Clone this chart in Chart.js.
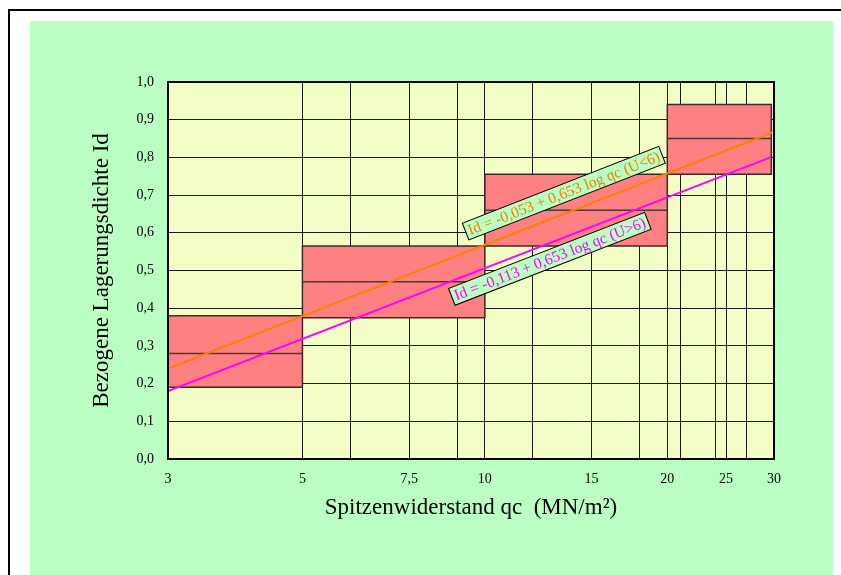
<!DOCTYPE html>
<html><head><meta charset="utf-8">
<script src="https://cdn.jsdelivr.net/npm/chart.js@4.4.1/dist/chart.umd.min.js"></script>
<style>html,body{margin:0;padding:0;background:#fff;}canvas{display:block;}</style>
</head><body>
<canvas id="c" width="841" height="575"></canvas>
<script>
// ---- data ----
const xGridValues = [3, 5, 6, 7.5, 9, 10, 12, 15, 18, 20, 21, 24, 25, 27, 30];
const xTickLabels = [3, 5, 7.5, 10, 15, 20, 25, 30];
const yTickValues = [0, 0.1, 0.2, 0.3, 0.4, 0.5, 0.6, 0.7, 0.8, 0.9, 1.0];
const boxStart = [3, 5, 10, 20];
const boxEnd   = [5, 10, 20, 29.7];
const boxLow   = [0.19, 0.375, 0.565, 0.755];
const boxMid   = [0.28, 0.47, 0.66, 0.85];
const boxHigh  = [0.38, 0.565, 0.755, 0.94];
const orangeX = [3, 29.8];
const orangeY = [0.24, 0.866];
const magentaX = [3, 29.6];
const magentaY = [0.18, 0.80];
const orangeLabel = 'Id = -0,053 + 0,653 log qc (U<6)';
const magentaLabel = 'Id = -0,113 + 0,653 log qc (U>6)';
const labelAnchorX = [13.5, 12.8];
const labelAnchorY = [0.705, 0.531];

const SERIF = "'Liberation Serif','Times New Roman',serif";
const fmt = v => (Math.round(v * 10) / 10).toFixed(1).replace('.', ',');
const fmtX = v => String(v).replace('.', ',');

const datasets = [];
datasets.push({label: 'U<6', data: orangeX.map((x, i) => ({x, y: orangeY[i]})),
  borderColor: '#ff8000', borderWidth: 2, pointRadius: 0, fill: false, order: 0});
datasets.push({label: 'U>6', data: magentaX.map((x, i) => ({x, y: magentaY[i]})),
  borderColor: '#ff00ff', borderWidth: 2, pointRadius: 0, fill: false, order: 1});
boxStart.forEach((s, i) => {
  datasets.push({label: 'mid' + i, data: [{x: s, y: boxMid[i]}, {x: boxEnd[i], y: boxMid[i]}],
    borderColor: '#4a3a3a', borderWidth: 1.5, pointRadius: 0, fill: false, order: 2});
});
boxStart.forEach((s, i) => {
  const e = boxEnd[i], l = boxLow[i], h = boxHigh[i];
  datasets.push({label: 'box' + i,
    data: [{x: s, y: l}, {x: e, y: l}, {x: e, y: h}, {x: s, y: h}, {x: s, y: l}],
    borderColor: '#3a2a2a', borderWidth: 1.5, backgroundColor: '#ff8080',
    pointRadius: 0, fill: 'shape', order: 3});
});

const bgPlugin = {
  id: 'bg',
  beforeDraw(chart) {
    const ctx = chart.ctx, a = chart.chartArea;
    ctx.save();
    ctx.fillStyle = '#ffffff';
    ctx.fillRect(0, 0, chart.width, chart.height);
    ctx.fillStyle = '#000000';
    ctx.fillRect(8, 9, 2, chart.height);
    ctx.fillRect(8, 9, chart.width, 2);
    ctx.fillStyle = '#bbffc3';
    ctx.fillRect(30, 21, 803, chart.height - 21);
    ctx.fillStyle = '#f3fdc6';
    ctx.fillRect(a.left, a.top, a.right - a.left, a.bottom - a.top);
    ctx.restore();
  },
  afterDraw(chart) {
    const ctx = chart.ctx, a = chart.chartArea;
    const xs = chart.scales.x, ys = chart.scales.y;
    ctx.save();
    ctx.strokeStyle = '#000';
    ctx.lineWidth = 2;
    ctx.strokeRect(a.left, a.top, a.right - a.left, a.bottom - a.top);
    const labels = [
      {text: orangeLabel, color: '#f08000', X: orangeX, Y: orangeY},
      {text: magentaLabel, color: '#ff00ff', X: magentaX, Y: magentaY}
    ];
    labels.forEach((L, i) => {
      const ang = Math.atan2(ys.getPixelForValue(L.Y[1]) - ys.getPixelForValue(L.Y[0]),
                             xs.getPixelForValue(L.X[1]) - xs.getPixelForValue(L.X[0]));
      const cx = xs.getPixelForValue(labelAnchorX[i]);
      const cy = ys.getPixelForValue(labelAnchorY[i]);
      ctx.save();
      ctx.translate(cx, cy);
      ctx.rotate(ang);
      ctx.font = '15.5px ' + SERIF;
      const w = ctx.measureText(L.text).width + 6;
      const h = 18;
      ctx.fillStyle = '#bbffc3';
      ctx.fillRect(-w / 2, -h / 2, w, h);
      ctx.strokeStyle = '#000';
      ctx.lineWidth = 1;
      ctx.strokeRect(-w / 2, -h / 2, w, h);
      ctx.fillStyle = L.color;
      ctx.textAlign = 'center';
      ctx.textBaseline = 'middle';
      ctx.fillText(L.text, 0, 1);
      ctx.restore();
    });
    ctx.restore();
  }
};

new Chart(document.getElementById('c'), {
  type: 'line',
  data: {datasets},
  options: {
    responsive: false,
    animation: false,
    layout: {padding: {left: 30, top: 82, right: 67, bottom: 0}},
    plugins: {legend: {display: false}, tooltip: {enabled: false}},
    elements: {line: {tension: 0}},
    scales: {
      x: {
        type: 'logarithmic', min: 3, max: 30, z: 1,
        afterBuildTicks: s => { s.ticks = xGridValues.map(v => ({value: v})); },
        afterFit: s => { s.height = 116; },
        grid: {color: '#1a1a1a', lineWidth: 1, drawTicks: false},
        border: {display: false},
        ticks: {autoSkip: false, maxRotation: 0, padding: 12, color: '#000',
          font: {family: SERIF, size: 14},
          callback: v => xTickLabels.includes(v) ? fmtX(v) : ''},
        title: {display: true, text: 'Spitzenwiderstand qc  (MN/m²)', color: '#000',
          font: {family: SERIF, size: 23}, padding: {top: 0, bottom: 53}}
      },
      y: {
        type: 'linear', min: 0, max: 1,
        afterBuildTicks: s => { s.ticks = yTickValues.map(v => ({value: v})); },
        afterFit: s => { s.width = 138; },
        grid: {color: '#1a1a1a', lineWidth: 1, drawTicks: false},
        border: {display: false},
        ticks: {padding: 14, color: '#000', font: {family: SERIF, size: 14},
          callback: v => fmt(v)},
        title: {display: true, text: 'Bezogene Lagerungsdichte Id', color: '#000',
          font: {family: SERIF, size: 23}, padding: {top: 58, bottom: 0}}
      }
    }
  },
  plugins: [bgPlugin]
});
</script>
</body></html>
